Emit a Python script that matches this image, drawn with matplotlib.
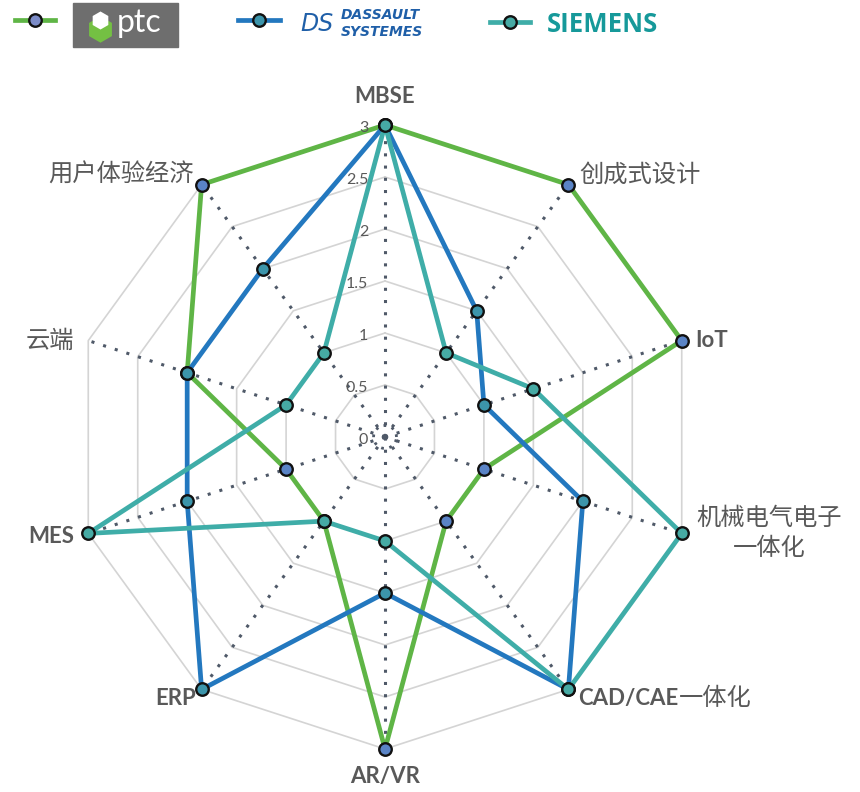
import numpy as np
import matplotlib.pyplot as plt

# axis names, clockwise from the top
categories = ['MBSE', '创成式设计', 'IoT', '机械电气电子\n一体化', 'CAD/CAE一体化',
              'AR/VR', 'ERP', 'MES', '云端', '用户体验经济']
ptc = [3, 3, 3, 1, 1, 3, 1, 1, 2, 3]
dassault = [3, 1.5, 1, 2, 3, 1.5, 3, 2, 2, 2]
siemens = [3, 1, 1.5, 3, 3, 1, 1, 3, 1, 1]
ticks = [0, 0.5, 1, 1.5, 2, 2.5, 3]

GRAY = '#595959'
CJK = ['Noto Sans CJK SC', 'DejaVu Sans']
LATIN = ['Lato', 'DejaVu Sans']

n = len(categories)
theta = np.arange(n) * 2 * np.pi / n
rmax = max(ticks)

def to_xy(vals):
    vals = np.asarray(vals, dtype=float)
    x = vals * np.sin(theta)
    y = vals * np.cos(theta)
    return np.append(x, x[0]), np.append(y, y[0])

fig = plt.figure(figsize=(8.6, 7.92), dpi=100)
ax = fig.add_axes([0, 0, 1, 1])
# 104 px per unit, centre at pixel (385, 437)
ax.set_xlim(-385 / 104, (860 - 385) / 104)
ax.set_ylim(-(792 - 437) / 104, 437 / 104)
ax.set_aspect('equal')
ax.axis('off')

# grid rings
for t in ticks[1:]:
    gx, gy = to_xy([t] * n)
    ax.plot(gx, gy, color='#d4d4d4', lw=1.2, zorder=1)

# dotted spokes and the small dotted circle in the middle
for a in theta:
    ax.plot([0, rmax * np.sin(a)], [0, rmax * np.cos(a)], color='#4f5968',
            lw=2.2, ls=(0, (1, 3)), dash_capstyle='butt', zorder=2)
c = np.linspace(0, 2 * np.pi, 80)
ax.plot(0.11 * np.cos(c), 0.11 * np.sin(c), color='#4f5968', lw=2,
        ls=(0, (1, 2)), zorder=2)

# tick labels along the MBSE axis
for t in ticks:
    ax.text(-0.16, t - 0.03, f'{t:g}', ha='right', va='center',
            fontsize=11.5, color=GRAY, family=LATIN, zorder=6)

series = [
    (ptc, '#5fb546', '#5a84c6'),
    (dassault, '#2378bf', '#3c95ab'),
    (siemens, '#3fada8', '#46aaa4'),
]
for i, (vals, col, mfc) in enumerate(series):
    sx, sy = to_xy(vals)
    ax.plot(sx, sy, color=col, lw=3.4, zorder=3 + i)
    ax.plot(sx[:-1], sy[:-1], ls='none', marker='o', ms=9, mfc=mfc,
            mec='#111111', mew=1.7, zorder=3.5 + i)

# category labels: offset in px from the outer vertex, and alignment
offsets = [(0, 28), (11, 10), (14, 0), (15, 0), (10, -9),
           (0, -27), (-6, -9), (-14, -3), (-14, 0), (-8, 10)]
aligns = ['center', 'left', 'left', 'left', 'left',
          'center', 'right', 'right', 'right', 'right']
for lab, a, (dx, dy), ha in zip(categories, theta, offsets, aligns):
    xy = (rmax * np.sin(a), rmax * np.cos(a))
    off = (dx * 0.72, dy * 0.72)
    k = 0
    while k < len(lab) and ord(lab[k]) < 128:
        k += 1
    if k == len(lab):
        ax.annotate(lab, xy, xytext=off, textcoords='offset points', ha=ha,
                    va='center', fontsize=16, fontweight='bold', color=GRAY,
                    family=LATIN)
    elif k == 0:
        ax.annotate(lab, xy, xytext=off, textcoords='offset points', ha=ha,
                    va='center', fontsize=17.5, color=GRAY, family=CJK,
                    multialignment='center', linespacing=1.2)
    else:
        t1 = ax.annotate(lab[:k], xy, xytext=off, textcoords='offset points',
                         ha=ha, va='center', fontsize=16, fontweight='bold',
                         color=GRAY, family=LATIN)
        ax.annotate(lab[k:], xy=(1, 0.5), xycoords=t1, ha='left', va='center',
                    fontsize=17.5, color=GRAY, family=CJK)

# legend row drawn in pixel coordinates
lg = fig.add_axes([0, 0, 1, 1])
lg.set_xlim(0, 860)
lg.set_ylim(792, 0)
lg.axis('off')

lg.plot([15, 55], [20, 20], color='#5fb546', lw=3.4)
lg.plot(35, 20, marker='o', ms=9, mfc='#7c8cc8', mec='#111111', mew=1.7)
lg.add_patch(plt.Rectangle((73, 3), 105, 44, color='#6e6e6e'))
lg.plot(100, 29, marker='h', ms=19, color='#74c043', mew=0)
lg.plot(100, 20, marker='h', ms=13, color='white', mew=0)
lg.text(117, 23, 'ptc', ha='left', va='center', fontsize=23, color='white',
        family=LATIN)

lg.plot([238, 280], [20, 20], color='#2378bf', lw=3.4)
lg.plot(259, 20, marker='o', ms=9, mfc='#3c95ab', mec='#111111', mew=1.7)
lg.text(300, 24, 'DS', ha='left', va='center', fontsize=17, style='italic',
        color='#1f5fa8', family=['DejaVu Sans'])
lg.text(341, 15, 'DASSAULT', ha='left', va='center', fontsize=10,
        style='italic', fontweight='bold', color='#1f5fa8', family=['DejaVu Sans'])
lg.text(341, 32, 'SYSTEMES', ha='left', va='center', fontsize=10,
        style='italic', fontweight='bold', color='#1f5fa8', family=['DejaVu Sans'])

lg.plot([490, 530], [22, 22], color='#3fada8', lw=3.4)
lg.plot(510, 22, marker='o', ms=9, mfc='#46aaa4', mec='#111111', mew=1.7)
lg.text(547, 24, 'SIEMENS', ha='left', va='center', fontsize=18.5,
        fontweight='bold', color='#16999a', family=['Open Sans', 'DejaVu Sans'])

fig.savefig('out.png', dpi=100)
